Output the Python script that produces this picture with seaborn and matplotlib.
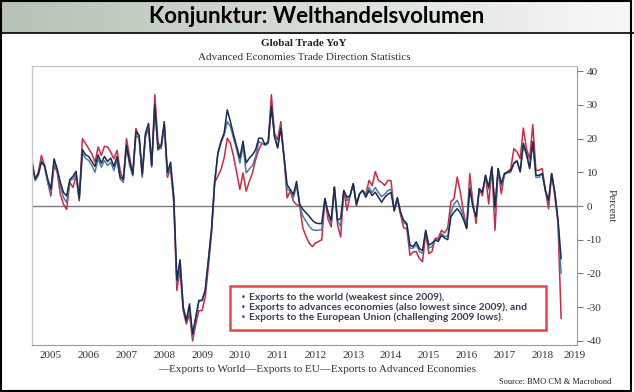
import numpy as np
import pandas as pd
import matplotlib
matplotlib.use("Agg")
import matplotlib.pyplot as plt
import seaborn as sns
from matplotlib.patches import Rectangle

# monthly YoY % values, Jan 2005 .. Jan 2019
world = [
    13.5, 8, 9.5, 13, 12, 8, 5, 14, 11, 7, 4, 3,
    7.8, 8.8, 10.3, 2.2, 16.7, 15.2, 14.7, 13.2, 11.7, 15.2, 12.7, 14.7,
    13.2, 14.2, 11.7, 14.7, 8.5, 8, 18, 13, 9.5, 22, 21, 9.5,
    21.5, 24.5, 12, 30, 17, 18, 25, 10, 13, 3, -22, -16,
    -30, -34, -29, -38, -33, -28, -28, -25, -16, -7, 7, 15.7,
    19.2, 21.6, 28.5, 25, 21.1, 17.7, 14.2, 19.2, 12.8, 14.2, 15.2, 16.7,
    20.1, 20.1, 18.2, 19, 29.5, 20.6, 17.2, 23.1, 14.7, 6.3, 4.9, 3.4,
    7.3, 0.5, -1, -2, -3, -4.2, -5, -5.2, -5.2, 2.2, -1.8, -4.2,
    5.6, -4.2, -3.7, 4.6, 2.6, 3.1, 6.6, 0.6, 3.6, 4.6, 2.6, 4.6,
    3.1, 4.1, 2.6, 1.1, 2.6, 3.5, 4, -1.3, 2.5, -1.8, -4.2, -5.2,
    -11.6, -12, -10.6, -12.6, -13.2, -7.2, -11.6, -11, -10.1, -10.5, -8.7, -9.5,
    -10, -3.2, -1.8, -0.8, -2, -4, -6.7, 5.1, -0.3, -3.2, 5.1, 4.1,
    9.1, 5.6, 11.6, -0.3, 11.1, 6.6, 9.6, 10.1, 10.5, 12.6, 13.3, 10.1,
    18.6, 15.6, 11.1, 19.1, 9.1, 9.1, 9.6, 4.6, 1.7, 9.6, 4, -4,
    -15.6,
]
eu = [
    12, 8, 10, 15, 12, 7, 3, 12, 10, 3.5, 0.5, -1,
    7, 5.5, 9, 1.5, 20, 18.5, 17, 15.5, 13, 17.5, 15, 17.7,
    17.5, 16, 14, 16.5, 10.5, 7.5, 20, 14.5, 9, 23, 20.5, 9,
    20.5, 23, 12, 33, 19, 17, 24, 8.5, 11, 1, -25, -19,
    -31, -35, -32, -40, -35, -31, -31, -27, -18, -8, 7, 8.8,
    10.8, 14.2, 20.1, 18.6, 14.7, 9.8, 4.9, 9.8, 4.4, 7.3, 9.8, 13.7,
    16.7, 18.6, 18.2, 19, 33, 21.6, 19.6, 25, 14.7, 2.4, 4.5, 1.4,
    0.4, 0, -6.5, -9, -11, -12, -11, -10.5, -10, 2, -4, -6.2,
    5.6, -5.5, -9.2, 4.6, -1.3, 3.1, 6.6, 0, 3.6, 4.6, 3.5, 7.6,
    6, 10.2, 7.6, 7, 6.1, 7.6, 7.5, -1.5, 2, -2.5, -6.5, -6.7,
    -14.6, -13.6, -13.5, -15.6, -16.5, -8, -14.1, -13.5, -9.6, -9.5, -7.2, -8,
    -6.5, 1.3, 2.2, 8.6, 4.1, -1.8, -6.5, 9.6, 1, -5.2, 5.1, 3,
    9.1, 0.6, 11.6, -7.2, 11.1, 3.6, 9.6, 10.1, 11, 17, 16, 14,
    23.1, 17, 14, 24.1, 10.6, 10.6, 11.1, 4.6, -0.8, 9.6, 3, -5,
    -33.4,
]
advanced = [
    12.5, 7.5, 9, 13.5, 11.5, 7, 4, 13, 10.5, 6, 2.5, 1,
    7.5, 8, 9.5, 2, 15.7, 14.2, 13.5, 12, 10, 14, 11.5, 13.5,
    12, 13, 10.5, 13.5, 8, 7, 17.5, 12, 9, 21, 20, 8.5,
    20.5, 23, 11.5, 29.5, 16.5, 17.5, 24, 9, 12, 2, -23, -16,
    -30, -34, -30, -39, -33, -28, -28, -25, -16, -7, 7, 15.2,
    18.7, 21, 25, 23.5, 20, 16.7, 12.7, 17.7, 9.8, 11, 12, 14.7,
    19.1, 18.6, 18, 18.5, 29.5, 20.6, 17.5, 23.5, 14.7, 5, 4.5, 2.5,
    6, 0, -3, -4.5, -6, -7, -7.2, -7.2, -7, 2.2, -2.5, -5,
    5.6, -4.5, -6, 4.6, 1.5, 3.1, 6.6, 0.4, 3.6, 4.6, 3, 5.5,
    4, 5.5, 4, 2.8, 3.5, 4.6, 5, -1.3, 2.4, -2, -5, -5.5,
    -12.5, -12.5, -11.5, -13.5, -14, -7.5, -12.5, -12, -10, -10, -8.2, -9,
    -9, -2, 0.6, 1.7, -0.5, -3, -6.5, 6, 0, -3.5, 5, 3.8,
    8.5, 5, 11, -1, 10.5, 6, 9.3, 9.8, 10, 12.8, 13.5, 10.3,
    18, 15, 11.5, 19, 8.5, 8.5, 9.6, 4.6, 1.2, 9.4, 4, -4.5,
    -20,
]
years = list(range(2005, 2020))
y_ticks = [40, 30, 20, 10, 0, -10, -20, -30, -40]
notes = [
    "Exports to the world (weakest since 2009),",
    "Exports to advances economies (also lowest since 2009), and",
    "Exports to the European Union (challenging 2009 lows).",
]

n = len(world)
t = 2005 + np.arange(n) / 12
df = pd.DataFrame({
    "t": np.concatenate([t, t, t]),
    "value": world + advanced + eu,
    "series": ["World"] * n + ["Advanced"] * n + ["EU"] * n,
})
palette = {"World": "#1d2b4c", "Advanced": "#4d7ba8", "EU": "#c62c43"}

sns.set_style("white")
plt.rcParams["font.family"] = ["Liberation Serif", "DejaVu Serif"]
plt.rcParams["axes.unicode_minus"] = False

W, H = 634, 392
fig = plt.figure(figsize=(W / 100, H / 100), dpi=100)

# header band with gradient
hax = fig.add_axes([0, 1 - 33 / H, 1, 33 / H])
grad = np.linspace(0, 1, 256)
c0 = np.array([0.71, 0.76, 0.70])
c1 = np.array([0.97, 0.975, 0.97])
img = c0[None, :] * (1 - grad[:, None]) + c1[None, :] * grad[:, None]
hax.imshow(img[None, :, :], aspect="auto", extent=[0, 1, 0, 1])
hax.set_axis_off()
hax.text(0.5, 0.5, "Konjunktur: Welthandelsvolumen", ha="center", va="center",
         fontsize=16, fontweight="bold", family=["Lato", "DejaVu Sans"], color="#000000")

# outer frame + header rule
fig.add_artist(Rectangle((1 / W, 1 / H), 630 / W, 390 / H, transform=fig.transFigure,
                         fill=False, edgecolor="black", lw=1.5))
fig.add_artist(plt.Line2D([0, 1], [1 - 33 / H, 1 - 33 / H], transform=fig.transFigure,
                          color="black", lw=1.2))

ax = fig.add_axes([32 / W, 1 - 345 / H, (577 - 32) / W, (345 - 66) / H])
sns.lineplot(data=df, x="t", y="value", hue="series", palette=palette,
             hue_order=["EU", "Advanced", "World"], legend=False, lw=1.1, ax=ax)
ax.axhline(0, color="#7a7a7a", lw=1.0, zorder=0)

ax.set_xlim(2005, 2019.42)
ax.set_ylim(-41.2, 41.5)
ax.set_xlabel("")
ax.set_ylabel("Percent", rotation=270, labelpad=10, fontsize=8, color="#333333")
ax.yaxis.set_label_position("right")
ax.yaxis.tick_right()
ax.set_yticks(y_ticks)
ax.set_yticklabels([str(v) for v in y_ticks], fontsize=8, color="#333333")
ax.tick_params(axis="y", length=4, width=0.8, color="#777777", pad=3, direction="out")

ax.set_xticks(years)
ax.set_xticklabels([])
label_pos = [y + 0.5 for y in years[:-1]] + [2019.35]
ax.set_xticks(label_pos, minor=True)
ax.set_xticklabels([str(y) for y in years], minor=True, fontsize=8, color="#333333")
ax.tick_params(axis="x", which="major", length=3, width=0.8, color="#777777", direction="out")
ax.tick_params(axis="x", which="minor", length=0, pad=4)

for side in ["left", "top"]:
    ax.spines[side].set_color("#c8c8c8")
    ax.spines[side].set_linewidth(1.0)
for side in ["right", "bottom"]:
    ax.spines[side].set_color("#9a9a9a")
    ax.spines[side].set_linewidth(0.8)

# titles
fig.text(304 / W, 1 - 44 / H, "Global Trade YoY", ha="center", va="center",
         fontsize=8, fontweight="bold", color="#222222")
fig.text(304 / W, 1 - 57 / H, "Advanced Economies Trade Direction Statistics",
         ha="center", va="center", fontsize=8, color="#333333")

# legend line
fig.text(317 / W, 1 - 369 / H,
         "\u2014Exports to World\u2014Exports to EU\u2014Exports to Advanced Economies",
         ha="center", va="center", fontsize=8, color="#333333")
fig.text(611 / W, 1 - 382 / H, "Source: BMO CM & Macrobond", ha="right", va="center",
         fontsize=6, color="#222222")

# annotation box
bx0, by0, bx1, by1 = 230, 286, 546, 330
fig.add_artist(Rectangle((bx0 / W + 2 / W, 1 - by1 / H - 2 / H), (bx1 - bx0) / W, (by1 - by0) / H,
                         transform=fig.transFigure, facecolor="#cccccc", edgecolor="none",
                         alpha=0.6, zorder=5))
fig.add_artist(Rectangle((bx0 / W, 1 - by1 / H), (bx1 - bx0) / W, (by1 - by0) / H,
                         transform=fig.transFigure, facecolor="white", edgecolor="#e8474a",
                         lw=1.8, zorder=6))
for k, line in enumerate(notes):
    yy = 1 - (297.5 + 10 * k) / H
    fig.text(243 / W, yy, "\u2022", ha="center", va="center", fontsize=6,
             family=["DejaVu Sans"], color="#3a3d55", zorder=7)
    fig.text(249 / W, yy, line, ha="left", va="center", fontsize=7.4, fontweight="bold",
             family=["Lato", "DejaVu Sans"], color="#3a3d55", zorder=7)

fig.savefig("out.png", dpi=100)
